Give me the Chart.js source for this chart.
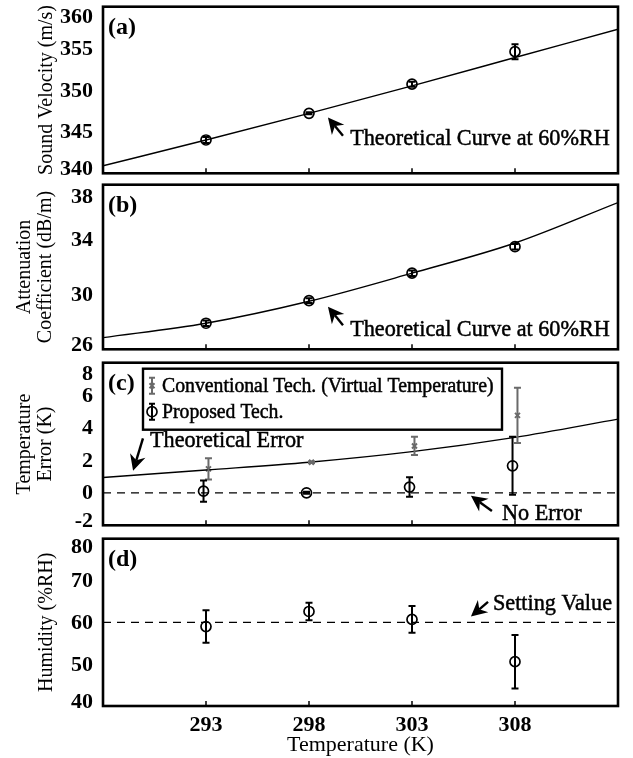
<!DOCTYPE html>
<html>
<head>
<meta charset="utf-8">
<script src="https://cdn.jsdelivr.net/npm/chart.js@4.4.0/dist/chart.umd.min.js"></script>
<style>
  html, body { margin: 0; padding: 0; background: #fff; }
  #wrap { position: relative; width: 633px; height: 758px; }
  .panel { position: absolute; left: 0; width: 633px; }
</style>
</head>
<body>
<div id="wrap">
  <div class="panel" style="top:0;height:180px"><canvas id="chartA"></canvas></div>
  <div class="panel" style="top:178px;height:178px"><canvas id="chartB"></canvas></div>
  <div class="panel" style="top:356px;height:176px"><canvas id="chartC"></canvas></div>
  <div class="panel" style="top:532px;height:226px"><canvas id="chartD"></canvas></div>
</div>
<script>
// shared x axis
const temps = [293, 298, 303, 308];
const xTicks = [293, 298, 303, 308];
const curveX = [288, 293, 298, 303, 308, 313];

// (a) sound velocity
const velocity = [344.0, 347.2, 350.7, 354.6];
const velocityErr = [0.35, 0.12, 0.3, 0.9];
const velocityCurve = [340.9, 344.0, 347.2, 350.5, 353.9, 357.3];
const velocityTicks = [340, 345, 350, 355, 360];

// (b) attenuation coefficient
const attenuation = [27.9, 29.55, 31.55, 33.48];
const attenuationErr = [0.2, 0.18, 0.2, 0.2];
const attenuationCurve = [26.85, 27.9, 29.5, 31.55, 33.75, 36.7];
const attenuationTicks = [26, 30, 34, 38];

// (c) temperature error
const convError = [1.47, 1.88, 2.88, 4.76];
const convErrorBar = [0.65, 0.05, 0.56, 1.7];
const propError = [0.1, 0.0, 0.35, 1.66];
const propErrorBar = [0.65, 0.06, 0.6, 1.78];
const theoryErrorCurve = [0.94, 1.4, 1.88, 2.53, 3.41, 4.53];
const errorTicks = [-2, 0, 2, 4, 6, 8];
const noError = 0;

// (d) humidity
const humidity = [59.0, 62.6, 60.7, 50.6];
const humidityErr = [3.9, 2.1, 3.2, 6.4];
const humidityTicks = [40, 50, 60, 70, 80];
const settingHumidity = 60;

const SERIF = '"Liberation Serif", "Times New Roman", serif';
const GRAY = '#6a6a6a';
const pairOffset = 0.12;

function pts(xs, ys, dx) {
  return xs.map((x, i) => ({ x: x + (dx || 0), y: ys[i] }));
}

function curveSet(ys) {
  return { data: pts(curveX, ys), borderColor: '#000', borderWidth: 1.4, pointRadius: 0,
    cubicInterpolationMode: 'monotone', fill: false };
}
function flatSet(v) {
  return { data: [{ x: 288, y: v }, { x: 313, y: v }], borderColor: '#000', borderWidth: 1.3,
    borderDash: [8, 6], pointRadius: 0, fill: false };
}
function circleSet(label, ys, errs, dx) {
  return { label: label, data: pts(temps, ys, dx), showLine: false, pointStyle: 'circle', pointRadius: 5,
    pointBorderWidth: 1.7, pointBorderColor: '#000', pointBackgroundColor: 'rgba(0,0,0,0)',
    errors: errs, errColor: '#000', errWidth: 2, capHalf: 3.5 };
}
function crossSet(label, ys, errs, dx) {
  return { label: label, data: pts(temps, ys, dx), showLine: false, pointStyle: 'crossRot', pointRadius: 3.5,
    pointBorderWidth: 2, pointBorderColor: GRAY, pointBackgroundColor: GRAY,
    errors: errs, errColor: GRAY, errWidth: 2, capHalf: 3.5 };
}

// text slightly narrowed and thickened like the printed figure
function heavyText(ctx, text, x, y, sx) {
  ctx.save();
  ctx.translate(x, y);
  ctx.scale(sx, 1);
  ctx.fillText(text, 0, 0);
  ctx.lineWidth = 0.5;
  ctx.strokeStyle = ctx.fillStyle;
  ctx.strokeText(text, 0, 0);
  ctx.restore();
}

function drawArrow(ctx, x1, y1, x2, y2) {
  // tail (x1,y1) -> tip (x2,y2), notched filled head
  const ang = Math.atan2(y2 - y1, x2 - x1);
  const L = 16, W = 8, N = 5;
  ctx.save();
  ctx.translate(x2, y2);
  ctx.rotate(ang);
  const len = Math.hypot(x2 - x1, y2 - y1);
  ctx.strokeStyle = '#000';
  ctx.lineWidth = 2.4;
  ctx.beginPath();
  ctx.moveTo(-len, 0);
  ctx.lineTo(-L + N, 0);
  ctx.stroke();
  ctx.fillStyle = '#000';
  ctx.beginPath();
  ctx.moveTo(0, 0);
  ctx.lineTo(-L, -W);
  ctx.lineTo(-L + N, 0);
  ctx.lineTo(-L, W);
  ctx.closePath();
  ctx.fill();
  ctx.restore();
}

function drawErrBar(ctx, x, yTop, yBot, color, width, capHalf) {
  ctx.save();
  ctx.strokeStyle = color;
  ctx.lineWidth = width;
  ctx.beginPath();
  ctx.moveTo(x, yTop); ctx.lineTo(x, yBot);
  ctx.moveTo(x - capHalf, yTop); ctx.lineTo(x + capHalf, yTop);
  ctx.moveTo(x - capHalf, yBot); ctx.lineTo(x + capHalf, yBot);
  ctx.stroke();
  ctx.restore();
}

const errorBarPlugin = {
  id: 'errorBars',
  afterDatasetsDraw(chart) {
    const ctx = chart.ctx;
    const ys = chart.scales.y;
    chart.data.datasets.forEach((ds, di) => {
      if (!ds.errors) return;
      const meta = chart.getDatasetMeta(di);
      meta.data.forEach((pt, i) => {
        const v = ds.data[i].y, e = ds.errors[i];
        drawErrBar(ctx, pt.x, ys.getPixelForValue(v + e), ys.getPixelForValue(v - e),
          ds.errColor, ds.errWidth, ds.capHalf);
      });
    });
  }
};

function decorPlugin(cfg) {
  return {
    id: 'decor',
    afterDraw(chart) {
      const ctx = chart.ctx;
      const a = chart.chartArea;
      const xs = chart.scales.x, ys = chart.scales.y;
      ctx.save();
      // frame
      ctx.strokeStyle = '#000';
      ctx.lineWidth = 2.6;
      ctx.strokeRect(a.left, a.top, a.right - a.left, a.bottom - a.top);
      // inward ticks on bottom
      ctx.lineWidth = 1.5;
      ctx.beginPath();
      xTicks.forEach(t => {
        const px = xs.getPixelForValue(t);
        ctx.moveTo(px, a.bottom);
        ctx.lineTo(px, a.bottom - 5);
      });
      ctx.stroke();
      // y tick labels, kept inside the frame height
      ctx.fillStyle = '#000';
      ctx.font = 'bold 22px ' + SERIF;
      ctx.textAlign = 'right';
      ctx.textBaseline = 'middle';
      cfg.yTicks.forEach(t => {
        let py = ys.getPixelForValue(t);
        py = Math.min(Math.max(py, a.top + cfg.topShift), a.bottom - 5);
        ctx.fillText(String(t), a.left - 10, py + 1);
      });
      // panel letter
      ctx.font = 'bold 24px ' + SERIF;
      ctx.textAlign = 'left';
      ctx.fillText(cfg.letter, a.left + 5, a.top + 21);
      // annotations
      ctx.font = '23.5px ' + SERIF;
      cfg.notes.forEach(n => {
        heavyText(ctx, n.text, xs.getPixelForValue(n.x), ys.getPixelForValue(n.y), 0.945);
        drawArrow(ctx, xs.getPixelForValue(n.tail[0]), ys.getPixelForValue(n.tail[1]),
          xs.getPixelForValue(n.tip[0]), ys.getPixelForValue(n.tip[1]));
      });
      // legend
      if (cfg.legend) {
        const L = a.left + 40, T = a.top + 6, R = a.left + 399, B = a.top + 67;
        ctx.fillStyle = '#fff';
        ctx.fillRect(L, T, R - L, B - T);
        ctx.strokeStyle = '#000';
        ctx.lineWidth = 2.4;
        ctx.strokeRect(L, T, R - L, B - T);
        const sets = chart.data.datasets.filter(d => d.label);
        sets.forEach((ds, i) => {
          const cy = T + 17 + i * 26;
          const ix = L + 9;
          drawErrBar(ctx, ix, cy - 8, cy + 8, ds.errColor, ds.errWidth, 3);
          ctx.strokeStyle = ds.pointBorderColor;
          ctx.lineWidth = ds.pointBorderWidth;
          ctx.beginPath();
          if (ds.pointStyle === 'circle') {
            ctx.arc(ix, cy, 5, 0, Math.PI * 2);
          } else {
            ctx.moveTo(ix - 2.5, cy - 2.5); ctx.lineTo(ix + 2.5, cy + 2.5);
            ctx.moveTo(ix - 2.5, cy + 2.5); ctx.lineTo(ix + 2.5, cy - 2.5);
          }
          ctx.stroke();
          ctx.fillStyle = '#000';
          ctx.font = '21px ' + SERIF;
          ctx.textAlign = 'left';
          ctx.textBaseline = 'middle';
          heavyText(ctx, ds.label, L + 19, cy + 1, 0.94);
        });
      }
      ctx.restore();
    }
  };
}

function makePanel(id, cfg) {
  const showX = !!cfg.showX;
  return new Chart(document.getElementById(id), {
    type: 'line',
    data: { datasets: cfg.datasets },
    options: {
      responsive: true,
      maintainAspectRatio: false,
      animation: false,
      events: [],
      layout: { padding: { top: cfg.padTop, bottom: cfg.padBottom, left: 0, right: 15 } },
      plugins: { legend: { display: false }, tooltip: { enabled: false } },
      scales: {
        x: {
          type: 'linear', min: 288, max: 313, display: showX,
          afterBuildTicks: s => { s.ticks = xTicks.map(v => ({ value: v })); },
          grid: { display: false, drawTicks: false },
          border: { display: false },
          ticks: { color: '#000', padding: 6, maxRotation: 0, font: { family: SERIF, size: 22, weight: 'bold' } },
          title: { display: showX, text: 'Temperature (K)', color: '#000', padding: { top: 0, bottom: 0 },
            font: { family: SERIF, size: 22 } },
          afterFit: s => { if (showX) s.height = 52; }
        },
        y: {
          min: cfg.yMin, max: cfg.yMax,
          ticks: { display: false },
          grid: { display: false },
          border: { display: false },
          title: { display: true, text: cfg.yTitle, color: '#000', padding: { top: cfg.titlePad, bottom: 0 },
            font: { family: SERIF, size: 20, lineHeight: 1.05 } },
          afterFit: s => { s.width = 103; }
        }
      }
    },
    plugins: [errorBarPlugin, decorPlugin(cfg)]
  });
}

makePanel('chartA', {
  padTop: 5, padBottom: 5, yMin: 340, yMax: 360, yTicks: velocityTicks, topShift: 10,
  yTitle: 'Sound Velocity (m/s)', titlePad: 36, letter: '(a)',
  datasets: [curveSet(velocityCurve), circleSet('', velocity, velocityErr, 0)],
  notes: [{ text: 'Theoretical Curve at 60%RH', x: 300.0, y: 344.1, tail: [299.65, 344.5], tip: [298.92, 346.7] }]
});

makePanel('chartB', {
  padTop: 4, padBottom: 4, yMin: 26, yMax: 38, yTicks: attenuationTicks, topShift: 12,
  yTitle: ['Attenuation', 'Coefficient (dB/m)'], titlePad: 14, letter: '(b)',
  datasets: [curveSet(attenuationCurve), circleSet('', attenuation, attenuationErr, 0)],
  notes: [{ text: 'Theoretical Curve at 60%RH', x: 300.0, y: 27.4, tail: [299.65, 27.76], tip: [298.92, 29.1] }]
});

makePanel('chartC', {
  padTop: 3, padBottom: 3, yMin: -2, yMax: 8, yTicks: errorTicks, topShift: 11,
  yTitle: ['Temperature', 'Error (K)'], titlePad: 14, letter: '(c)', legend: true,
  datasets: [
    curveSet(theoryErrorCurve),
    flatSet(noError),
    crossSet('Conventional Tech. (Virtual Temperature)', convError, convErrorBar, pairOffset),
    circleSet('Proposed Tech.', propError, propErrorBar, -pairOffset)
  ],
  notes: [
    { text: 'Theoretical Error', x: 290.28, y: 3.18, tail: [289.94, 3.35], tip: [289.46, 1.35] },
    { text: 'No Error', x: 307.37, y: -1.3, tail: [306.88, -1.12], tip: [305.86, -0.18] }
  ]
});

makePanel('chartD', {
  padTop: 5, padBottom: 0, yMin: 40, yMax: 80, yTicks: humidityTicks, topShift: 8, showX: true,
  yTitle: 'Humidity (%RH)', titlePad: 36, letter: '(d)',
  datasets: [flatSet(settingHumidity), circleSet('', humidity, humidityErr, 0)],
  notes: [{ text: 'Setting Value', x: 306.93, y: 64.5, tail: [306.69, 64.9], tip: [305.86, 61.4] }]
});
</script>
</body>
</html>
